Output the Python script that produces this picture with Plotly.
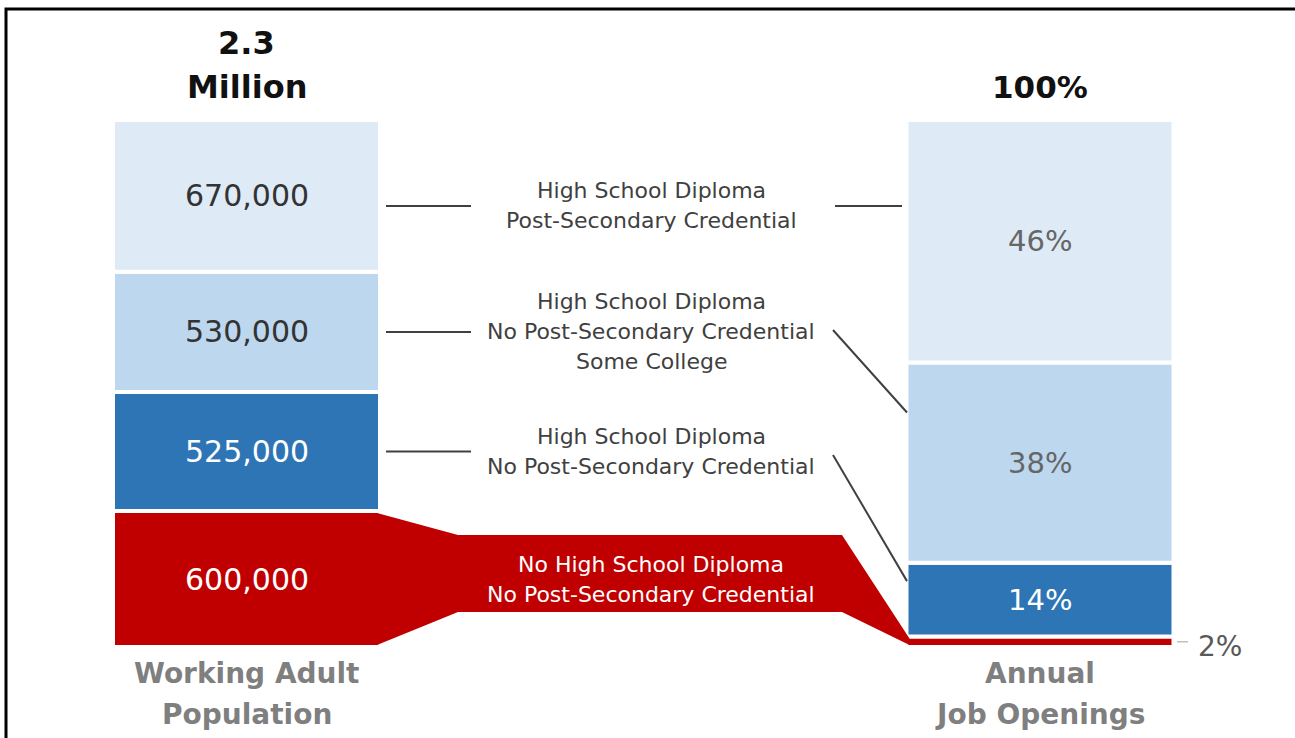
import numpy as np
import plotly.graph_objects as go

# ---------------- data ----------------
categories = [
    "No High School Diploma / No Post-Secondary Credential",
    "High School Diploma / No Post-Secondary Credential",
    "High School Diploma / No Post-Secondary Credential / Some College",
    "High School Diploma / Post-Secondary Credential",
]
population_k = [600, 525, 530, 670]          # thousands, bottom -> top
population_labels = ["600,000", "525,000", "530,000", "670,000"]
openings_pct = [2, 14, 38, 46]               # percent, bottom -> top
openings_labels = ["2%", "14%", "38%", "46%"]
group_lines = [
    ["No High School Diploma", "No Post-Secondary Credential"],
    ["High School Diploma", "No Post-Secondary Credential"],
    ["High School Diploma", "No Post-Secondary Credential", "Some College"],
    ["High School Diploma", "Post-Secondary Credential"],
]
left_title = ["2.3", "Million"]
right_title = ["100%"]
left_footer = ["Working Adult", "Population"]
right_footer = ["Annual", "Job Openings"]

# ---------------- styles ----------------
seg_colors = ["#C00000", "#2E75B6", "#BDD7EE", "#DEEAF6"]
val_text_colors = ["#FFFFFF", "#FFFFFF", "#333333", "#333333"]
pct_text_colors = ["#595959", "#FFFFFF", "#666666", "#666666"]
FONT = "DejaVu Sans"
W, H = 1295, 738
TOP_PX, BOTTOM_PX = 120, 647
BAR_CENTER_PX = [246.5, 1040.0]
BAR_W = 0.3365
GAP = 4

total_k = float(sum(population_k))
total_pct = float(sum(openings_pct))
upp_left = total_k / (BOTTOM_PX - TOP_PX)      # units per pixel (left axis)
upp_right = total_pct / (BOTTOM_PX - TOP_PX)
y_range = [-(H - BOTTOM_PX) * upp_left, total_k + TOP_PX * upp_left]
y2_range = [-(H - BOTTOM_PX) * upp_right, total_pct + TOP_PX * upp_right]
px_per_x = BAR_CENTER_PX[1] - BAR_CENTER_PX[0]
x_range = [-BAR_CENTER_PX[0] / px_per_x, 1 + (W - BAR_CENTER_PX[1]) / px_per_x]


def xpx(p):
    return (p - BAR_CENTER_PX[0]) / px_per_x


def ypx(p):
    return (BOTTOM_PX - p) * upp_left


pop_base = np.concatenate([[0], np.cumsum(population_k)[:-1]])
pct_base = np.concatenate([[0], np.cumsum(openings_pct)[:-1]])

fig = go.Figure()
for i in range(len(categories)):
    fig.add_trace(go.Bar(
        x=[0], y=[population_k[i]], base=[pop_base[i]], width=BAR_W,
        marker=dict(color=seg_colors[i], line=dict(color="white", width=GAP)),
        yaxis="y", name=categories[i], showlegend=False, hoverinfo="skip"))
    fig.add_trace(go.Bar(
        x=[1], y=[openings_pct[i]], base=[pct_base[i]], width=BAR_W,
        marker=dict(color=seg_colors[i], line=dict(color="white", width=GAP)),
        yaxis="y2", name=categories[i], showlegend=False, hoverinfo="skip"))

annotations = []
# value labels in the left bar
for i, lab in enumerate(population_labels):
    annotations.append(dict(x=0, y=pop_base[i] + population_k[i] / 2, xref="x", yref="y",
                            text=lab, showarrow=False,
                            font=dict(family=FONT, size=30, color=val_text_colors[i])))
# percent labels in the right bar (2% is placed outside)
for i, lab in enumerate(openings_labels):
    if i == 0:
        annotations.append(dict(x=xpx(1196), y=pct_base[i] + openings_pct[i] / 2, xref="x", yref="y2",
                                text=lab, showarrow=False, xanchor="left", yshift=-5,
                                font=dict(family=FONT, size=28, color="#595959")))
    else:
        annotations.append(dict(x=1, y=pct_base[i] + openings_pct[i] / 2, xref="x", yref="y2",
                                text=lab, showarrow=False,
                                font=dict(family=FONT, size=29, color=pct_text_colors[i])))

# middle labels: each group centered on the matching left segment
group_shift_px = [0, 0, 0, -10]
MID_X = xpx(651)
LINE_SP = 30
for g, lines in enumerate(group_lines):
    cy = pop_base[g] + population_k[g] / 2
    n = len(lines)
    for j, t in enumerate(lines):
        annotations.append(dict(x=MID_X, y=cy, xref="x", yref="y", text=t, showarrow=False,
                                yshift=group_shift_px[g] + ((n - 1) / 2 - j) * LINE_SP,
                                font=dict(family=FONT, size=22,
                                          color="#FFFFFF" if g == 0 else "#404040")))


# titles and footers
def stack_lines(lines, x, y, first_shift, step, size, color):
    for j, t in enumerate(lines):
        annotations.append(dict(x=x, y=y, xref="x", yref="y", text="<b>%s</b>" % t,
                                showarrow=False, yshift=first_shift - j * step,
                                font=dict(family=FONT, size=size, color=color)))


stack_lines(left_title, 0, total_k, 77, 44, 32, "#111111")
stack_lines(right_title, 1, total_k, 33, 44, 31, "#111111")
stack_lines(left_footer, 0, 0, -26, 41, 28, "#7f7f7f")
stack_lines(right_footer, 1, 0, -26, 41, 28, "#7f7f7f")

shapes = []
# red band joining the two red segments (drawn over the bars' white outline)
band_top, band_bot = ypx(535), ypx(612)
half = GAP / 2
left_edge = xpx(BAR_CENTER_PX[0] + BAR_W / 2 * px_per_x - half - 1)
right_edge = xpx(BAR_CENTER_PX[1] - BAR_W / 2 * px_per_x + half + 1)
red_left_top = population_k[0] - half * upp_left
red_right_top = openings_pct[0] / total_pct * total_k - half * upp_left
red_bottom = half * upp_left
path = ("M {a},{b} L {c},{d} L {e},{d} L {f},{g} L {f},{k} L {e},{h} L {c},{h} L {a},{k} Z"
        .format(a=left_edge, b=red_left_top, c=xpx(458), d=band_top, e=xpx(842),
                f=right_edge, g=red_right_top, h=band_bot, k=red_bottom))
shapes.append(dict(type="path", path=path, xref="x", yref="y", fillcolor=seg_colors[0],
                   line=dict(width=0), layer="above"))

LINE = dict(color="#404040", width=2)
# connector lines
seg_center_px = [BOTTOM_PX - (pop_base[g] + population_k[g] / 2) / upp_left for g in range(4)]
for g in (1, 2, 3):
    yp = seg_center_px[g] - group_shift_px[g]
    shapes.append(dict(type="line", xref="x", yref="y", x0=xpx(386), x1=xpx(471),
                       y0=ypx(yp), y1=ypx(yp), line=LINE))
# top group: horizontal line to right bar
yp = seg_center_px[3] - group_shift_px[3]
shapes.append(dict(type="line", xref="x", yref="y", x0=xpx(835), x1=xpx(902),
                   y0=ypx(yp), y1=ypx(yp), line=LINE))
# diagonals to the right bar (end at 75% of the target segment)
for g, start_px in ((2, 330), (1, 455)):
    y_end = (pct_base[g] + 0.75 * openings_pct[g]) / total_pct * total_k
    shapes.append(dict(type="line", xref="x", yref="y", x0=xpx(833), x1=xpx(907),
                       y0=ypx(start_px), y1=y_end, line=LINE))
# small tick for 2%
y2c = (pct_base[0] + openings_pct[0] / 2) / total_pct * total_k
shapes.append(dict(type="line", xref="x", yref="y", x0=xpx(1177), x1=xpx(1188),
                   y0=y2c, y1=y2c, line=dict(color="#bfbfbf", width=1.5)))
# frame: left edge and top edge, drawn as one open path ending past the right side
fx, fy = 6 / W, 1 - 9 / H
shapes.append(dict(type="path", xref="paper", yref="paper",
                   path="M {a},0 L {a},{b} L 1.1,{b}".format(a=fx, b=fy),
                   line=dict(color="black", width=3)))

fig.update_layout(
    width=W, height=H, margin=dict(l=0, r=0, t=0, b=0),
    paper_bgcolor="white", plot_bgcolor="white", barmode="overlay",
    xaxis=dict(range=x_range, visible=False, fixedrange=True),
    yaxis=dict(range=y_range, visible=False, fixedrange=True),
    yaxis2=dict(range=y2_range, visible=False, overlaying="y", fixedrange=True),
    annotations=annotations, shapes=shapes, showlegend=False,
)
fig.write_html("out.html", config={"displayModeBar": False},
               post_script=("document.body.style.margin='0';document.body.style.padding='0';"
                            "document.body.style.overflow='hidden';"
                            "document.documentElement.style.overflow='hidden';"))
